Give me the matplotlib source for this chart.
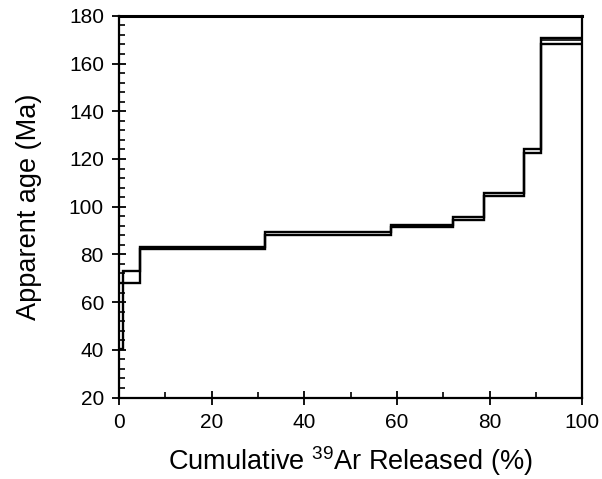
import numpy as np
import matplotlib
matplotlib.use('Agg')
import matplotlib.pyplot as plt
from matplotlib.ticker import MultipleLocator

plt.rcParams['font.family'] = ['Liberation Sans', 'DejaVu Sans']
plt.rcParams['mathtext.default'] = 'regular'

# step edges in cumulative 39Ar released (%)
edges = [0, 0.8, 4.5, 31.5, 58.7, 72.0, 78.7, 87.5, 91.1, 100]
# lower / upper bounds of each step's age box (Ma)
age_lo = [40.5, 68.2, 82.2, 88.2, 91.6, 94.5, 104.6, 122.3, 168.2]
age_hi = [68.0, 72.9, 83.0, 89.4, 92.5, 95.7, 105.9, 124.3, 170.9]
# extra line inside the last box
last_mid = 170.0

fig = plt.figure(figsize=(6.02, 4.79), dpi=100)
ax = fig.add_axes([0.198, 0.170, 0.769, 0.797])

ax.stairs(age_hi, edges, baseline=None, color='black', lw=1.7)
ax.stairs(age_lo, edges, baseline=None, color='black', lw=1.7)
ax.hlines(last_mid, edges[-2], edges[-1], color='black', lw=1.2)

ax.set_xlim(0, 100)
ax.set_ylim(20, 180)
ax.xaxis.set_major_locator(MultipleLocator(20))
ax.xaxis.set_minor_locator(MultipleLocator(10))
ax.yaxis.set_major_locator(MultipleLocator(20))
ax.yaxis.set_minor_locator(MultipleLocator(4))

ax.tick_params(which='major', direction='inout', length=10, width=1.3,
               labelsize=15, pad=6)
ax.tick_params(which='minor', direction='in', length=4.5, width=1.2)

for s in ax.spines.values():
    s.set_linewidth(1.6)
ax.spines['top'].set_linewidth(2.2)

ax.set_xlabel(r'Cumulative $^{39}$Ar Released (%)', fontsize=19.5, labelpad=9)
ax.set_ylabel('Apparent age (Ma)', fontsize=19.5, labelpad=19)

fig.savefig('out.png', dpi=100)
